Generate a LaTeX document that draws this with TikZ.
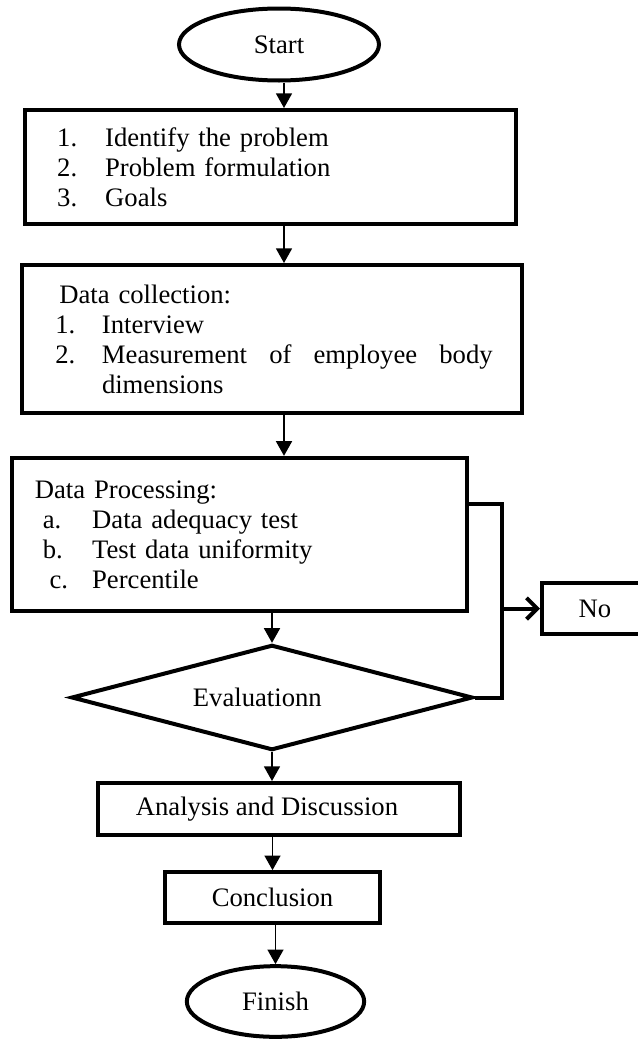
\documentclass[tikz,border=0pt]{standalone}
\usepackage{fontspec}
\setmainfont{Liberation Serif}
\usetikzlibrary{arrows.meta, shapes.geometric}

\begin{document}
\begin{tikzpicture}[x=0.75pt, y=-0.75pt, >={Triangle[length=11pt, width=12pt]},
    font=\fontsize{20}{22.5}\selectfont,
    term/.style={draw, ellipse, line width=3pt},
    procbox/.style={draw, rectangle, line width=3pt, align=left},
    flow/.style={->, line width=1.25pt},
    loopline/.style={line width=3pt}]
    \useasboundingbox (0,0) rectangle (638,1039);

    % terminals and steps
    \node[term, minimum width=150pt, minimum height=54pt] (start) at (279,44.5) {Start};
    \node[procbox, minimum height=85.5pt, text width=320pt, inner xsep=24pt] (prob) at (270.5,167)
        {\makebox[36pt][l]{1.}Identify the problem\\
         \makebox[36pt][l]{2.}Problem formulation\\
         \makebox[36pt][l]{3.}Goals};
    \node[procbox, minimum height=111pt, text width=332pt, inner xsep=21.5pt] (coll) at (272,339)
        {\hspace*{6.5pt}Data collection:\\
         \hspace*{3.5pt}\makebox[35pt][l]{1.}Interview\\
         \hspace*{3.5pt}\makebox[35pt][l]{2.}\parbox[t]{293pt}{\makebox[293pt]{Measurement\hfill of\hfill employee\hfill body}\\dimensions}};
    \node[procbox, minimum height=115pt, text width=307pt, inner xsep=17pt] (proc) at (239.5,534.5)
        {Data Processing:\\
         \hspace*{6pt}\makebox[37pt][l]{a.}Data adequacy test\\
         \hspace*{6pt}\makebox[37pt][l]{b.}Test data uniformity\\
         \hspace*{11pt}\makebox[32pt][l]{c.}Percentile};
    \node[procbox, minimum width=79.5pt, minimum height=38pt] (no) at (595,608.5) {No};
    \node[draw, diamond, aspect=3.8, line width=3pt, inner sep=0pt, minimum width=301pt, minimum height=79pt] (eval) at (272,697.5) {Evaluationn\hspace*{22pt}};
    \node[procbox, minimum width=271.5pt, minimum height=39pt] (anal) at (279,809) {Analysis and Discussion\hspace*{18pt}};
    \node[procbox, minimum width=161pt, minimum height=38pt] (concl) at (272.5,897.5) {Conclusion};
    \node[term, minimum width=133pt, minimum height=53pt] (fin) at (275.5,1001.5) {Finish};

    % arrows
    \coordinate (axis) at (284,0);
    \draw[flow] (start.south -| axis) -- (prob.north -| axis);
    \draw[flow] (prob.south -| axis) -- (coll.north -| axis);
    \draw[flow] (coll.south -| axis) -- (proc.north -| axis);
    \draw[flow] (proc.south -| eval.north) -- (eval.north);
    \draw[flow] (eval.south) -- (eval.south |- anal.north);
    \draw[flow] (anal.south -| concl.north) -- (concl.north);
    \draw[flow] (concl.south -| fin.north) -- (fin.north);

    % feedback loop
    \coordinate (bend) at (502,504);
    \draw[loopline] (proc.east |- bend) -- (bend) -- (bend |- eval.east) -- (eval.east);
    \draw[loopline, -{Straight Barb[length=8pt, width=16pt]}] (bend |- no.west) -- (no.west);
\end{tikzpicture}
\end{document}
